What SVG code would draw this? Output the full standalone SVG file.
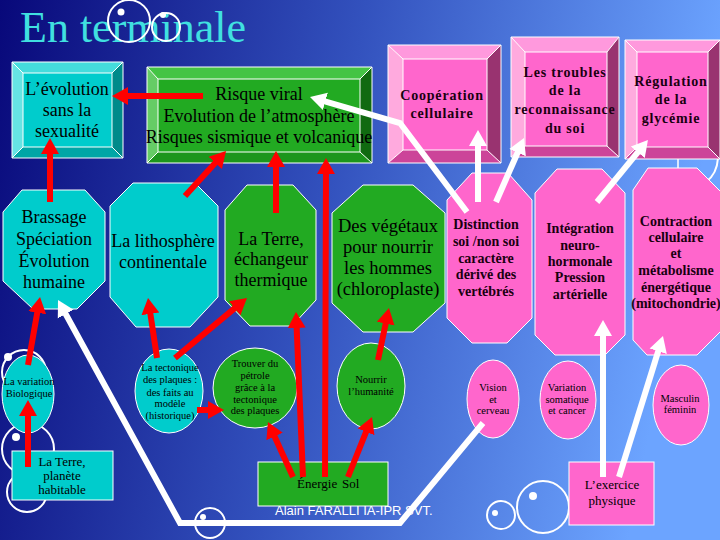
<svg xmlns="http://www.w3.org/2000/svg" width="720" height="540" viewBox="0 0 720 540">
<defs>
<linearGradient id="bg" x1="0" y1="0" x2="1" y2="0.15">
<stop offset="0" stop-color="#08087a"/>
<stop offset="0.5" stop-color="#3352be"/>
<stop offset="1" stop-color="#6ca4ff"/>
</linearGradient>
<marker id="ar" markerUnits="userSpaceOnUse" markerWidth="16" markerHeight="20" viewBox="0 0 16 20" refX="6" refY="10" orient="auto"><path d="M0,1 L16,10 L0,19 z" fill="#ff0000"/></marker>
<marker id="aw" markerUnits="userSpaceOnUse" markerWidth="16" markerHeight="20" viewBox="0 0 16 20" refX="6" refY="10" orient="auto"><path d="M0,1 L16,10 L0,19 z" fill="#ffffff"/></marker>
<style>
.s{font-family:"Liberation Serif","Times New Roman",serif;text-anchor:middle;fill:#000}
.b18{font-size:18px}
.b13{font-size:13px}
.sm{font-size:10.5px}
.pb{font-family:"Liberation Serif","Times New Roman",serif;text-anchor:middle;font-weight:bold;font-size:14px;fill:#1a0010}
.ls{letter-spacing:0.8px}
.ol{stroke:#ffffff;stroke-width:1}
.cy{fill:#00cccc}.gr{fill:#22aa22}.pk{fill:#ff66cc}
.cyT{fill:#44dcdc}.cyL{fill:#66e4e4}.cyR{fill:#008a8a}.cyB{fill:#00a6a6}
.grT{fill:#44c444}.grL{fill:#66cc66}.grR{fill:#106a10}.grB{fill:#1c961c}
.pkT{fill:#ff99dd}.pkL{fill:#ffaade}.pkR{fill:#993370}.pkB{fill:#cc4499}
.deco{fill:none;stroke:#ffffff;stroke-width:2}
.red{fill:none;stroke:#ff0000;stroke-width:6;marker-end:url(#ar)}
.wh{fill:none;stroke:#ffffff;stroke-width:6;marker-end:url(#aw)}
.edge{fill:none;stroke:#ffffff;stroke-width:1}
</style>
</defs>
<rect x="0" y="0" width="720" height="540" fill="url(#bg)"/>

<g id="decor">
<text x="20" y="42" font-family="Liberation Serif, Times New Roman, serif" font-size="44" fill="#40e0e0">En terminale</text>
<circle class="deco" cx="129" cy="21" r="21"/><circle cx="121" cy="12" r="3.5" fill="#fff"/>
<circle class="deco" cx="166" cy="27" r="14"/><circle cx="163" cy="15" r="3" fill="#fff"/>
<circle class="deco" cx="24" cy="372" r="22"/><circle cx="8" cy="357" r="4" fill="#fff"/>
<circle class="deco" cx="28" cy="449" r="26"/><circle cx="16" cy="437" r="4" fill="#fff"/>
<circle class="deco" cx="27" cy="492" r="20"/>
<circle class="deco" cx="210" cy="523" r="15"/><circle cx="203" cy="517" r="3" fill="#fff"/>
<circle class="deco" cx="543" cy="507" r="26"/><circle cx="533" cy="496" r="4" fill="#fff"/>
<circle class="deco" cx="501" cy="515" r="14"/><circle cx="495" cy="513" r="3" fill="#fff"/>
<path class="deco" d="M718,158 Q717,174 706,182"/>
<line x1="678" y1="159" x2="678" y2="168" stroke="#fff" stroke-width="1.5"/>
<text x="275" y="515" font-family="Liberation Sans, Arial, sans-serif" font-size="13" fill="#ffffff">Alain FARALLI IA-IPR SVT.</text>
</g>

<g id="n-evolution">
<rect class="cy" x="12" y="62" width="111" height="96"/>
<polygon class="cyT" points="12,62 123,62 112,73 23,73"/>
<polygon class="cyL" points="12,62 23,73 23,147 12,158"/>
<polygon class="cyR" points="123,62 123,158 112,147 112,73"/>
<polygon class="cyB" points="12,158 23,147 112,147 123,158"/>
<path class="edge" d="M12,62H123V158H12Z M23,73H112V147H23Z M12,62L23,73 M123,62L112,73 M12,158L23,147 M123,158L112,147"/>
<text class="s b18" x="67" y="95">L’évolution</text>
<text class="s b18" x="67" y="116">sans la</text>
<text class="s b18" x="67" y="137">sexualité</text>
</g>

<g id="n-risque">
<rect class="gr" x="147" y="67" width="225" height="96"/>
<polygon class="grT" points="147,67 372,67 360,79 158,79"/>
<polygon class="grL" points="147,67 158,79 158,152 147,163"/>
<polygon class="grR" points="372,67 372,163 360,152 360,79"/>
<polygon class="grB" points="147,163 158,152 360,152 372,163"/>
<path class="edge" d="M147,67H372V163H147Z M158,79H360V152H158Z M147,67L158,79 M372,67L360,79 M147,163L158,152 M372,163L360,152"/>
<text class="s b18" x="259" y="100">Risque viral</text>
<text class="s b18" x="259" y="122">Evolution de l’atmosphère</text>
<text class="s b18" x="259" y="143">Risques sismique et volcanique</text>
</g>

<g id="n-cooperation">
<rect class="pk" x="388" y="45" width="113" height="118"/>
<polygon class="pkT" points="388,45 501,45 487,59 403,59"/>
<polygon class="pkL" points="388,45 403,59 403,150 388,163"/>
<polygon class="pkR" points="501,45 501,163 487,150 487,59"/>
<polygon class="pkB" points="388,163 403,150 487,150 501,163"/>
<path class="edge" d="M388,45H501V163H388Z M403,59H487V150H403Z M388,45L403,59 M501,45L487,59 M388,163L403,150 M501,163L487,150"/>
<text class="pb ls" x="442" y="100">Coopération</text>
<text class="pb ls" x="442" y="118">cellulaire</text>
</g>

<g id="n-troubles">
<rect class="pk" x="511" y="37" width="108" height="120"/>
<polygon class="pkT" points="511,37 619,37 607,52 525,52"/>
<polygon class="pkL" points="511,37 525,52 525,146 511,157"/>
<polygon class="pkR" points="619,37 619,157 607,146 607,52"/>
<polygon class="pkB" points="511,157 525,146 607,146 619,157"/>
<path class="edge" d="M511,37H619V157H511Z M525,52H607V146H525Z M511,37L525,52 M619,37L607,52 M511,157L525,146 M619,157L607,146"/>
<text class="pb ls" x="565" y="77">Les troubles</text>
<text class="pb ls" x="565" y="95">de la</text>
<text class="pb ls" x="565" y="114">reconnaissance</text>
<text class="pb ls" x="565" y="133">du soi</text>
</g>

<g id="n-regulation">
<rect class="pk" x="625" y="40" width="95" height="119"/>
<polygon class="pkT" points="625,40 720,40 708,52 637,52"/>
<polygon class="pkL" points="625,40 637,52 637,147 625,159"/>
<polygon class="pkR" points="720,40 720,159 708,147 708,52"/>
<polygon class="pkB" points="625,159 637,147 708,147 720,159"/>
<path class="edge" d="M625,40H720V159H625Z M637,52H708V147H637Z M625,40L637,52 M720,40L708,52 M625,159L637,147 M720,159L708,147"/>
<text class="pb ls" x="671" y="86">Régulation</text>
<text class="pb ls" x="671" y="104">de la</text>
<text class="pb ls" x="671" y="123">glycémie</text>
</g>

<g id="n-brassage">
<polygon class="cy ol" points="22,190 85,190 105,212 105,281 77,309 33,309 3,281 3,212"/>
<text class="s b18" x="54" y="223">Brassage</text>
<text class="s b18" x="54" y="245">Spéciation</text>
<text class="s b18" x="54" y="267">Évolution</text>
<text class="s b18" x="54" y="288">humaine</text>
</g>

<g id="n-lithosphere">
<polygon class="cy ol" points="133,183 195,183 218,206 218,297 190,327 136,327 110,297 110,206"/>
<text class="s b18" x="163" y="247">La lithosphère</text>
<text class="s b18" x="163" y="268">continentale</text>
</g>

<g id="n-terre-echangeur">
<polygon class="gr ol" points="247,185 293,185 316,210 316,300 292,326 250,326 225,300 225,210"/>
<text class="s b18" x="271" y="245">La Terre,</text>
<text class="s b18" x="271" y="265">échangeur</text>
<text class="s b18" x="271" y="286">thermique</text>
</g>

<g id="n-vegetaux">
<polygon class="gr ol" points="363,185 413,185 445,213 445,303 413,332 363,332 332,303 332,213"/>
<text class="s" font-size="18.5" x="388" y="232">Des végétaux</text>
<text class="s" font-size="18.5" x="388" y="253">pour nourrir</text>
<text class="s" font-size="18.5" x="388" y="274">les hommes</text>
<text class="s" font-size="18.5" x="388" y="295">(chloroplaste)</text>
</g>

<g id="n-distinction">
<polygon class="pk ol" points="472,173 508,173 532,200 532,318 507,343 472,343 447,318 447,200"/>
<text class="pb" x="486" y="229">Distinction</text>
<text class="pb" x="486" y="246">soi /non soi</text>
<text class="pb" x="486" y="263">caractère</text>
<text class="pb" x="486" y="279">dérivé des</text>
<text class="pb" x="486" y="296">vertébrés</text>
</g>

<g id="n-integration">
<polygon class="pk ol" points="557,169 602,169 625,193 625,335 605,355 555,355 535,335 535,193"/>
<text class="pb" x="580" y="233">Intégration</text>
<text class="pb" x="580" y="250">neuro-</text>
<text class="pb" x="580" y="266">hormonale</text>
<text class="pb" x="580" y="282">Pression</text>
<text class="pb" x="580" y="299">artérielle</text>
</g>

<g id="n-contraction">
<polygon class="pk ol" points="648,168 697,168 722,193 722,330 697,355 647,355 633,340 633,190"/>
<text class="pb" x="676" y="226">Contraction</text>
<text class="pb" x="676" y="242">cellulaire</text>
<text class="pb" x="676" y="258">et</text>
<text class="pb" x="676" y="275">métabolisme</text>
<text class="pb" x="676" y="292">énergétique</text>
<text class="pb" x="676" y="308" font-size="12.5">(mitochondrie)</text>
</g>

<g id="n-variation-bio">
<ellipse class="cy ol" cx="28" cy="394" rx="26" ry="39"/>
<text class="s sm" x="29" y="385">La variation</text>
<text class="s sm" x="29" y="397">Biologique</text>
</g>

<g id="n-tectonique">
<ellipse class="cy ol" cx="169" cy="391" rx="34" ry="42"/>
<text class="s sm" x="170" y="371">La tectonique</text>
<text class="s sm" x="170" y="383">des plaques :</text>
<text class="s sm" x="170" y="396">des faits au</text>
<text class="s sm" x="170" y="407">modèle</text>
<text class="s sm" x="170" y="419">(historique)</text>
</g>

<g id="n-petrole">
<ellipse class="gr ol" cx="255" cy="388" rx="42" ry="40"/>
<text class="s sm" x="255" y="367">Trouver du</text>
<text class="s sm" x="255" y="379">pétrole</text>
<text class="s sm" x="255" y="391">grâce à la</text>
<text class="s sm" x="255" y="403">tectonique</text>
<text class="s sm" x="255" y="414">des plaques</text>
</g>

<g id="n-nourrir">
<ellipse class="gr ol" cx="371" cy="386" rx="34" ry="43"/>
<text class="s sm" x="371" y="383">Nourrir</text>
<text class="s sm" x="371" y="395">l’humanité</text>
</g>

<g id="n-vision">
<ellipse class="pk ol" cx="493" cy="399" rx="26" ry="39"/>
<text class="s sm" x="493" y="391">Vision</text>
<text class="s sm" x="493" y="403">et</text>
<text class="s sm" x="493" y="414">cerveau</text>
</g>

<g id="n-variation-som">
<ellipse class="pk ol" cx="568" cy="400" rx="28" ry="39"/>
<text class="s sm" x="567" y="391">Variation</text>
<text class="s sm" x="567" y="403">somatique</text>
<text class="s sm" x="567" y="414">et cancer</text>
</g>

<g id="n-masculin">
<ellipse class="pk ol" cx="681" cy="405" rx="28" ry="40"/>
<text class="s sm" x="680" y="402">Masculin</text>
<text class="s sm" x="680" y="413">féminin</text>
</g>

<g id="n-terre-habitable">
<rect class="cy ol" x="12" y="451" width="101" height="49"/>
<text class="s b13" x="62" y="466">La Terre,</text>
<text class="s b13" x="62" y="480">planète</text>
<text class="s b13" x="62" y="494">habitable</text>
</g>

<g id="n-energie">
<rect class="gr ol" x="258" y="462" width="130" height="44"/>
<text class="s b13" y="488" style="text-anchor:start"><tspan x="297">Énergie</tspan><tspan x="342">Sol</tspan></text>
</g>

<g id="n-exercice">
<rect class="pk ol" x="569" y="462" width="85" height="63"/>
<text class="s b13" x="612" y="489">L’exercice</text>
<text class="s b13" x="612" y="505">physique</text>
</g>

<g id="connectors">
<line class="red" x1="203" y1="96" x2="122" y2="96"/>
<line class="red" x1="50" y1="202" x2="50" y2="148"/>
<line class="red" x1="185" y1="196" x2="219.3" y2="158.4"/>
<line class="red" x1="276" y1="213" x2="276" y2="161"/>
<line class="red" x1="325" y1="477" x2="326" y2="168"/>
<line class="red" x1="303" y1="477" x2="296.4" y2="322"/>
<line class="red" x1="157" y1="358" x2="149.5" y2="307.9"/>
<line class="red" x1="175" y1="358" x2="239.3" y2="304.4"/>
<line class="red" x1="197" y1="410" x2="214" y2="410"/>
<line class="red" x1="293" y1="477" x2="272.1" y2="431.1"/>
<line class="red" x1="348" y1="477" x2="368.3" y2="426.3"/>
<line class="red" x1="378" y1="360" x2="386.9" y2="317.8"/>
<line class="red" x1="28" y1="467" x2="28" y2="410"/>
<line class="red" x1="28" y1="365" x2="38.3" y2="306.8"/>
<polyline class="wh" points="483,423 400,523 180,523 62.8,308.8"/>
<polyline class="wh" points="467,212 400,123 319.6,99.8"/>
<line class="wh" x1="478" y1="202" x2="478" y2="140"/>
<line class="wh" x1="496" y1="202" x2="520" y2="147.2"/>
<line class="wh" x1="597" y1="202" x2="641.6" y2="147.7"/>
<line class="wh" x1="603" y1="477" x2="603" y2="330"/>
<line class="wh" x1="619" y1="477" x2="660" y2="345.5"/>
</g>
</svg>
